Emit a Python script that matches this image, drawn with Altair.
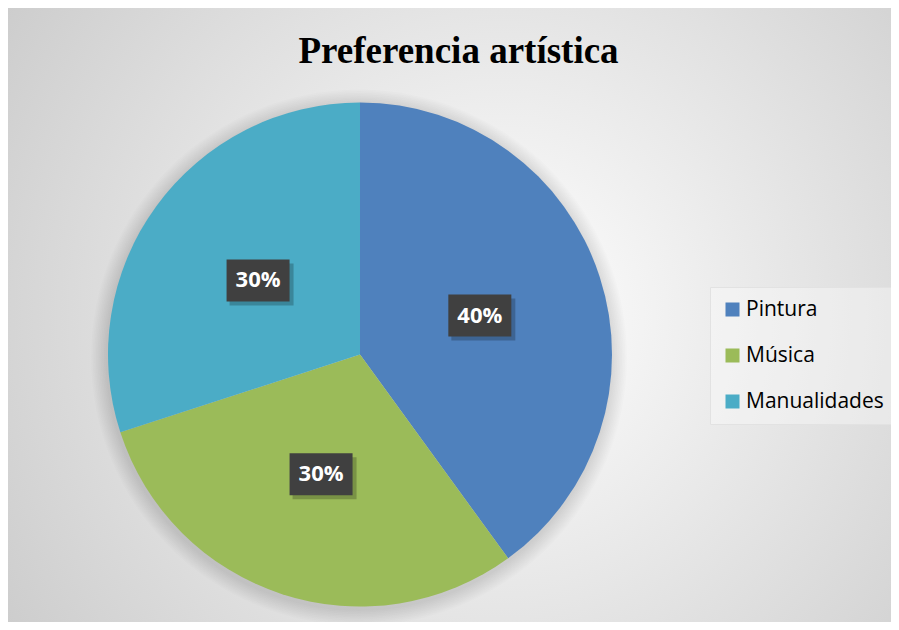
import altair as alt
import pandas as pd

categories = ["Pintura", "Música", "Manualidades"]
values = [40, 30, 30]
labels = ["40%", "30%", "30%"]
colors = ["#4F81BD", "#9BBB59", "#4BACC6"]

df = pd.DataFrame({
    "cat": categories,
    "value": values,
    "label": labels,
    "order": list(range(len(categories))),
})
one = pd.DataFrame({"s": [1]})

W, H = 883, 544
TOP = 70
CX, CY, R, LR = 352, 276.5, 252, 126

bg = alt.Chart(one).mark_rect(
    fill=alt.RadialGradient(
        gradient="radial",
        stops=[alt.GradientStop(color="#ffffff", offset=0),
               alt.GradientStop(color="#c4c4c4", offset=1)],
        x1=0.56, y1=0.5, x2=0.56, y2=0.5, r1=0, r2=0.78,
    )
).encode(x=alt.value(0), x2=alt.value(W), y=alt.value(-TOP), y2=alt.value(H))

shadows = []
for k in range(10, 0, -1):
    shadows.append(
        alt.Chart(one).mark_arc(radius=R + 1.6 * k, color="#000000", opacity=0.012).encode(
            theta=alt.value(0), theta2=alt.value(6.2832),
            x=alt.value(CX - 1), y=alt.value(CY + 3),
        )
    )

pie = alt.Chart(df).mark_arc(radius=R, strokeWidth=0).encode(
    theta=alt.Theta("value:Q", stack=True),
    color=alt.Color(
        "cat:N",
        sort=categories,
        scale=alt.Scale(domain=categories, range=colors),
        legend=alt.Legend(
            orient="none", legendX=702, legendY=209, title=None,
            symbolType="square", symbolSize=196, symbolStrokeWidth=0,
            labelFont="Open Sans", labelFontSize=21, labelColor="#000000",
            rowPadding=24, padding=12, labelOffset=3, labelLimit=0,
            fillColor="rgba(255,255,255,0.35)", strokeColor="#e2e2e2",
        ),
    ),
    order=alt.Order("order:Q"),
    x=alt.value(CX), y=alt.value(CY),
)

pos = alt.Chart(df).transform_joinaggregate(
    total="sum(value)"
).transform_window(
    cum="sum(value)", sort=[alt.SortField("order")], frame=[None, 0]
).transform_calculate(
    ang="(datum.cum - datum.value/2) / datum.total * 2 * PI",
    px=f"{CX} + {LR} * sin(datum.ang)",
    py=f"{CY} - {LR} * cos(datum.ang)",
).transform_calculate(
    bx1="datum.px - 31.5", bx2="datum.px + 31.5",
    by1="datum.py - 21", by2="datum.py + 21",
    sx1="datum.px - 28.5", sx2="datum.px + 35.5",
    sy1="datum.py - 17", sy2="datum.py + 25",
)

box_shadow = pos.mark_rect(color="#000000", opacity=0.22).encode(
    x=alt.X("sx1:Q", scale=None, axis=None), x2="sx2:Q",
    y=alt.Y("sy1:Q", scale=None, axis=None), y2="sy2:Q",
)
box = pos.mark_rect(color="#404040").encode(
    x=alt.X("bx1:Q", scale=None, axis=None), x2="bx2:Q",
    y=alt.Y("by1:Q", scale=None, axis=None), y2="by2:Q",
)
text = pos.mark_text(
    font="Open Sans", fontWeight="bold", fontSize=22, color="#ffffff",
    align="center", baseline="middle",
).encode(
    x=alt.X("px:Q", scale=None, axis=None),
    y=alt.Y("py:Q", scale=None, axis=None),
    text="label:N",
)

chart = alt.layer(bg, *shadows, pie, box_shadow, box, text).properties(
    width=W, height=H,
    autosize=alt.AutoSizeParams(type="none"),
    padding={"top": TOP, "left": 0, "right": 0, "bottom": 0},
    title=alt.Title(
        "Preferencia artística", font="Liberation Serif", fontSize=37,
        fontWeight="bold", color="#000000", anchor="middle", frame="group",
        baseline="alphabetic", offset=-92, dx=9,
    ),
).configure_view(stroke=None)

chart.save("out.html", embed_options={"renderer": "svg", "actions": False})
